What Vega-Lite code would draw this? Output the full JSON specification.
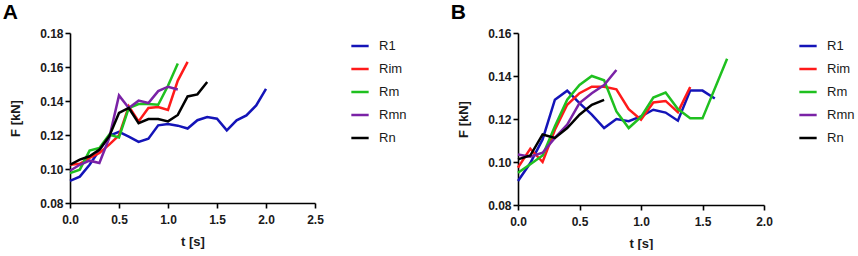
{
  "$schema": "https://vega.github.io/schema/vega-lite/v6.json",
  "padding": {"left": 2, "top": 2, "right": 0, "bottom": 0},
  "background": "white",
  "spacing": 43,
  "config": {
    "view": {"stroke": null},
    "font": "Liberation Sans",
    "axis": {
      "grid": false,
      "domainColor": "#000000",
      "domainWidth": 1.6,
      "tickColor": "#000000",
      "tickWidth": 1.6,
      "tickSize": 5,
      "labelFont": "Liberation Sans",
      "labelFontWeight": "bold",
      "labelFontSize": 12,
      "labelColor": "#1a1a1a",
      "titleFont": "Liberation Sans",
      "titleFontWeight": "bold",
      "titleFontSize": 13,
      "titleColor": "#1a1a1a"
    },
    "axisX": {"labelPadding": 6, "titlePadding": 10, "labelFlush": false},
    "axisY": {"labelPadding": 2, "titlePadding": 17},
    "legend": {
      "labelFont": "Liberation Sans",
      "labelFontSize": 13,
      "labelColor": "#1a1a1a",
      "symbolType": "stroke",
      "symbolStrokeWidth": 2.5,
      "symbolSize": 300,
      "rowPadding": 6,
      "padding": 0,
      "labelOffset": 9,
      "orient": "none",
      "legendX": 280,
      "legendY": 3
    },
    "title": {
      "font": "Liberation Sans",
      "fontSize": 21,
      "fontWeight": "bold",
      "anchor": "start",
      "frame": "bounds",
      "color": "#000000",
      "offset": 4,
      "dx": -7
    }
  },
  "datasets": {
    "A": [
      {"series": "R1", "t": 0.0, "F": 0.093},
      {"series": "R1", "t": 0.1, "F": 0.0955},
      {"series": "R1", "t": 0.2, "F": 0.1025},
      {"series": "R1", "t": 0.3, "F": 0.111},
      {"series": "R1", "t": 0.4, "F": 0.1195},
      {"series": "R1", "t": 0.5, "F": 0.1218},
      {"series": "R1", "t": 0.6, "F": 0.119},
      {"series": "R1", "t": 0.7, "F": 0.1159},
      {"series": "R1", "t": 0.8, "F": 0.1178},
      {"series": "R1", "t": 0.9, "F": 0.1257},
      {"series": "R1", "t": 1.0, "F": 0.1265},
      {"series": "R1", "t": 1.1, "F": 0.1255},
      {"series": "R1", "t": 1.2, "F": 0.1238},
      {"series": "R1", "t": 1.3, "F": 0.1287},
      {"series": "R1", "t": 1.4, "F": 0.1306},
      {"series": "R1", "t": 1.5, "F": 0.1296},
      {"series": "R1", "t": 1.6, "F": 0.1227},
      {"series": "R1", "t": 1.7, "F": 0.1286},
      {"series": "R1", "t": 1.8, "F": 0.1315},
      {"series": "R1", "t": 1.9, "F": 0.1374},
      {"series": "R1", "t": 2.0, "F": 0.1472},
      {"series": "Rim", "t": 0.0, "F": 0.1025},
      {"series": "Rim", "t": 0.1, "F": 0.1031},
      {"series": "Rim", "t": 0.2, "F": 0.1065},
      {"series": "Rim", "t": 0.3, "F": 0.1094},
      {"series": "Rim", "t": 0.4, "F": 0.1143},
      {"series": "Rim", "t": 0.5, "F": 0.1198},
      {"series": "Rim", "t": 0.6, "F": 0.1369},
      {"series": "Rim", "t": 0.7, "F": 0.128},
      {"series": "Rim", "t": 0.8, "F": 0.1359},
      {"series": "Rim", "t": 0.9, "F": 0.1365},
      {"series": "Rim", "t": 1.0, "F": 0.1347},
      {"series": "Rim", "t": 1.1, "F": 0.152},
      {"series": "Rim", "t": 1.2, "F": 0.163},
      {"series": "Rm", "t": 0.0, "F": 0.0976},
      {"series": "Rm", "t": 0.1, "F": 0.0996},
      {"series": "Rm", "t": 0.2, "F": 0.1108},
      {"series": "Rm", "t": 0.3, "F": 0.1124},
      {"series": "Rm", "t": 0.4, "F": 0.1202},
      {"series": "Rm", "t": 0.5, "F": 0.1186},
      {"series": "Rm", "t": 0.6, "F": 0.1359},
      {"series": "Rm", "t": 0.7, "F": 0.1382},
      {"series": "Rm", "t": 0.8, "F": 0.1382},
      {"series": "Rm", "t": 0.9, "F": 0.1378},
      {"series": "Rm", "t": 1.0, "F": 0.149},
      {"series": "Rm", "t": 1.1, "F": 0.162},
      {"series": "Rmn", "t": 0.0, "F": 0.099},
      {"series": "Rmn", "t": 0.1, "F": 0.1025},
      {"series": "Rmn", "t": 0.2, "F": 0.1049},
      {"series": "Rmn", "t": 0.3, "F": 0.1035},
      {"series": "Rmn", "t": 0.4, "F": 0.1182},
      {"series": "Rmn", "t": 0.5, "F": 0.1433},
      {"series": "Rmn", "t": 0.6, "F": 0.1359},
      {"series": "Rmn", "t": 0.7, "F": 0.1402},
      {"series": "Rmn", "t": 0.8, "F": 0.1388},
      {"series": "Rmn", "t": 0.9, "F": 0.1458},
      {"series": "Rmn", "t": 1.0, "F": 0.1484},
      {"series": "Rmn", "t": 1.1, "F": 0.1468},
      {"series": "Rn", "t": 0.0, "F": 0.1025},
      {"series": "Rn", "t": 0.1, "F": 0.1055},
      {"series": "Rn", "t": 0.2, "F": 0.1075},
      {"series": "Rn", "t": 0.3, "F": 0.1114},
      {"series": "Rn", "t": 0.4, "F": 0.1192},
      {"series": "Rn", "t": 0.5, "F": 0.133},
      {"series": "Rn", "t": 0.6, "F": 0.1359},
      {"series": "Rn", "t": 0.7, "F": 0.127},
      {"series": "Rn", "t": 0.8, "F": 0.1294},
      {"series": "Rn", "t": 0.9, "F": 0.1294},
      {"series": "Rn", "t": 1.0, "F": 0.128},
      {"series": "Rn", "t": 1.1, "F": 0.1318},
      {"series": "Rn", "t": 1.2, "F": 0.1427},
      {"series": "Rn", "t": 1.3, "F": 0.1439},
      {"series": "Rn", "t": 1.4, "F": 0.1512}
    ],
    "B": [
      {"series": "R1", "t": 0.0, "F": 0.0912},
      {"series": "R1", "t": 0.1, "F": 0.0995},
      {"series": "R1", "t": 0.2, "F": 0.1105},
      {"series": "R1", "t": 0.3, "F": 0.129},
      {"series": "R1", "t": 0.4, "F": 0.1332},
      {"series": "R1", "t": 0.5, "F": 0.1274},
      {"series": "R1", "t": 0.6, "F": 0.122},
      {"series": "R1", "t": 0.7, "F": 0.1158},
      {"series": "R1", "t": 0.8, "F": 0.12},
      {"series": "R1", "t": 0.9, "F": 0.119},
      {"series": "R1", "t": 1.0, "F": 0.1212},
      {"series": "R1", "t": 1.1, "F": 0.1243},
      {"series": "R1", "t": 1.2, "F": 0.123},
      {"series": "R1", "t": 1.3, "F": 0.1192},
      {"series": "R1", "t": 1.4, "F": 0.1332},
      {"series": "R1", "t": 1.5, "F": 0.1332},
      {"series": "R1", "t": 1.6, "F": 0.1295},
      {"series": "Rim", "t": 0.0, "F": 0.0974},
      {"series": "Rim", "t": 0.1, "F": 0.1062},
      {"series": "Rim", "t": 0.2, "F": 0.1},
      {"series": "Rim", "t": 0.3, "F": 0.115},
      {"series": "Rim", "t": 0.4, "F": 0.1266},
      {"series": "Rim", "t": 0.5, "F": 0.132},
      {"series": "Rim", "t": 0.6, "F": 0.135},
      {"series": "Rim", "t": 0.7, "F": 0.135},
      {"series": "Rim", "t": 0.8, "F": 0.1338},
      {"series": "Rim", "t": 0.9, "F": 0.1246},
      {"series": "Rim", "t": 1.0, "F": 0.1197},
      {"series": "Rim", "t": 1.1, "F": 0.1277},
      {"series": "Rim", "t": 1.2, "F": 0.1284},
      {"series": "Rim", "t": 1.3, "F": 0.1232},
      {"series": "Rim", "t": 1.4, "F": 0.1349},
      {"series": "Rm", "t": 0.0, "F": 0.095},
      {"series": "Rm", "t": 0.1, "F": 0.099},
      {"series": "Rm", "t": 0.2, "F": 0.103},
      {"series": "Rm", "t": 0.3, "F": 0.1166},
      {"series": "Rm", "t": 0.4, "F": 0.129},
      {"series": "Rm", "t": 0.5, "F": 0.1358},
      {"series": "Rm", "t": 0.6, "F": 0.14},
      {"series": "Rm", "t": 0.7, "F": 0.138},
      {"series": "Rm", "t": 0.8, "F": 0.1235},
      {"series": "Rm", "t": 0.9, "F": 0.1158},
      {"series": "Rm", "t": 1.0, "F": 0.121},
      {"series": "Rm", "t": 1.1, "F": 0.13},
      {"series": "Rm", "t": 1.2, "F": 0.1323},
      {"series": "Rm", "t": 1.3, "F": 0.1246},
      {"series": "Rm", "t": 1.4, "F": 0.1203},
      {"series": "Rm", "t": 1.5, "F": 0.1203},
      {"series": "Rm", "t": 1.7, "F": 0.148},
      {"series": "Rmn", "t": 0.0, "F": 0.1035},
      {"series": "Rmn", "t": 0.1, "F": 0.1025},
      {"series": "Rmn", "t": 0.2, "F": 0.1043},
      {"series": "Rmn", "t": 0.3, "F": 0.1112},
      {"series": "Rmn", "t": 0.4, "F": 0.1174},
      {"series": "Rmn", "t": 0.5, "F": 0.1274},
      {"series": "Rmn", "t": 0.6, "F": 0.132},
      {"series": "Rmn", "t": 0.7, "F": 0.1358},
      {"series": "Rmn", "t": 0.8, "F": 0.1428},
      {"series": "Rn", "t": 0.0, "F": 0.1012},
      {"series": "Rn", "t": 0.1, "F": 0.103},
      {"series": "Rn", "t": 0.2, "F": 0.1128},
      {"series": "Rn", "t": 0.3, "F": 0.1112},
      {"series": "Rn", "t": 0.4, "F": 0.1158},
      {"series": "Rn", "t": 0.5, "F": 0.122},
      {"series": "Rn", "t": 0.6, "F": 0.1266},
      {"series": "Rn", "t": 0.7, "F": 0.1289}
    ]
  },
  "resolve": {"scale": {"color": "independent"}, "legend": {"color": "independent"}},
  "hconcat": [
    {
      "title": {"text": "A"},
      "width": 245,
      "height": 170,
      "data": {"name": "A"},
      "mark": {"type": "line", "strokeWidth": 2.5, "strokeJoin": "miter", "clip": false},
      "encoding": {
        "x": {"field": "t", "type": "quantitative", "scale": {"domain": [0, 2.5], "nice": false, "zero": false},
              "axis": {"values": [0, 0.5, 1, 1.5, 2, 2.5], "format": ".1f", "title": "t [s]"}},
        "y": {"field": "F", "type": "quantitative", "scale": {"domain": [0.08, 0.18], "nice": false, "zero": false},
              "axis": {"values": [0.08, 0.1, 0.12, 0.14, 0.16, 0.18], "format": ".2f", "title": "F [kN]"}},
        "color": {"field": "series", "type": "nominal",
                  "scale": {"domain": ["R1", "Rim", "Rm", "Rmn", "Rn"], "range": ["#1414b8", "#ff1a1a", "#1fc01f", "#7a22a6", "#000000"]},
                  "legend": {"title": null}}
      }
    },
    {
      "title": {"text": "B"},
      "width": 246,
      "height": 172,
      "data": {"name": "B"},
      "mark": {"type": "line", "strokeWidth": 2.5, "strokeJoin": "miter", "clip": false},
      "encoding": {
        "x": {"field": "t", "type": "quantitative", "scale": {"domain": [0, 2.0], "nice": false, "zero": false},
              "axis": {"values": [0, 0.5, 1, 1.5, 2], "format": ".1f", "title": "t [s]"}},
        "y": {"field": "F", "type": "quantitative", "scale": {"domain": [0.08, 0.16], "nice": false, "zero": false},
              "axis": {"values": [0.08, 0.1, 0.12, 0.14, 0.16], "format": ".2f", "title": "F [kN]"}},
        "color": {"field": "series", "type": "nominal",
                  "scale": {"domain": ["R1", "Rim", "Rm", "Rmn", "Rn"], "range": ["#1414b8", "#ff1a1a", "#1fc01f", "#7a22a6", "#000000"]},
                  "legend": {"title": null}}
      }
    }
  ]
}
